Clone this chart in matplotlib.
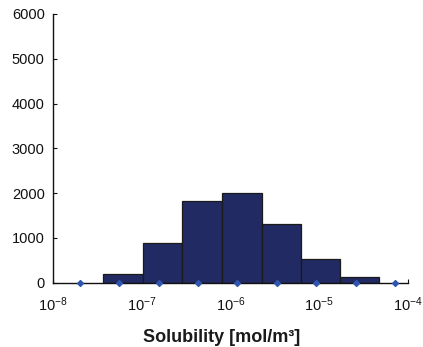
import numpy as np
import matplotlib.pyplot as plt

plt.rcParams['font.family'] = ['Liberation Sans', 'DejaVu Sans']
plt.rcParams['mathtext.fontset'] = 'custom'
plt.rcParams['mathtext.rm'] = 'Liberation Sans'
plt.rcParams['mathtext.it'] = 'Liberation Sans'

# ── Data (log10 of solubility) ──
bin_edges_log = [-7.433, -6.989, -6.543, -6.099, -5.648, -5.206, -4.766, -4.323]
counts = [205, 890, 1835, 2010, 1320, 525, 135]
marker_log = [-7.70, -7.26, -6.81, -6.37, -5.93, -5.48, -5.04, -4.59, -4.15]
xtick_exp = [-8, -7, -6, -5, -4]
ytick_vals = [0, 1000, 2000, 3000, 4000, 5000, 6000]

edges = 10.0 ** np.array(bin_edges_log)
lefts = edges[:-1]
widths = np.diff(edges)

fig = plt.figure(figsize=(4.23, 3.47), dpi=100)
ax = fig.add_axes([0.1253, 0.1853, 0.8392, 0.7744])

ax.bar(lefts, counts, width=widths, align='edge',
       color='#222a63', edgecolor='#1a1a1a', linewidth=0.9, zorder=2)
ax.scatter(10.0 ** np.array(marker_log), np.zeros(len(marker_log)),
           marker='D', s=9, color='#2f55b0', zorder=4, clip_on=False)

ax.set_xscale('log')
ax.set_xlim(1e-8, 1e-4)
ax.set_ylim(0, 6000)
ax.set_xticks([10.0 ** e for e in xtick_exp])
ax.set_xticklabels([f'$10^{{{e}}}$' for e in xtick_exp])
ax.minorticks_off()
ax.set_yticks(ytick_vals)

for s in ['top', 'right']:
    ax.spines[s].set_visible(False)
for s in ['left', 'bottom']:
    ax.spines[s].set_linewidth(1.0)
    ax.spines[s].set_color('#111111')
    ax.spines[s].set_zorder(3)

ax.tick_params(axis='both', direction='in', length=3, width=0.8,
               labelsize=10.5, colors='#111111')
ax.tick_params(axis='x', pad=9)
ax.tick_params(axis='y', pad=6)

ax.set_xlabel('Solubility [mol/m³]', fontsize=13, fontweight='bold',
              color='#1a1a1a')
ax.xaxis.set_label_coords(0.476, -0.172)

fig.savefig('out.png', dpi=100, facecolor='white')
plt.close(fig)
